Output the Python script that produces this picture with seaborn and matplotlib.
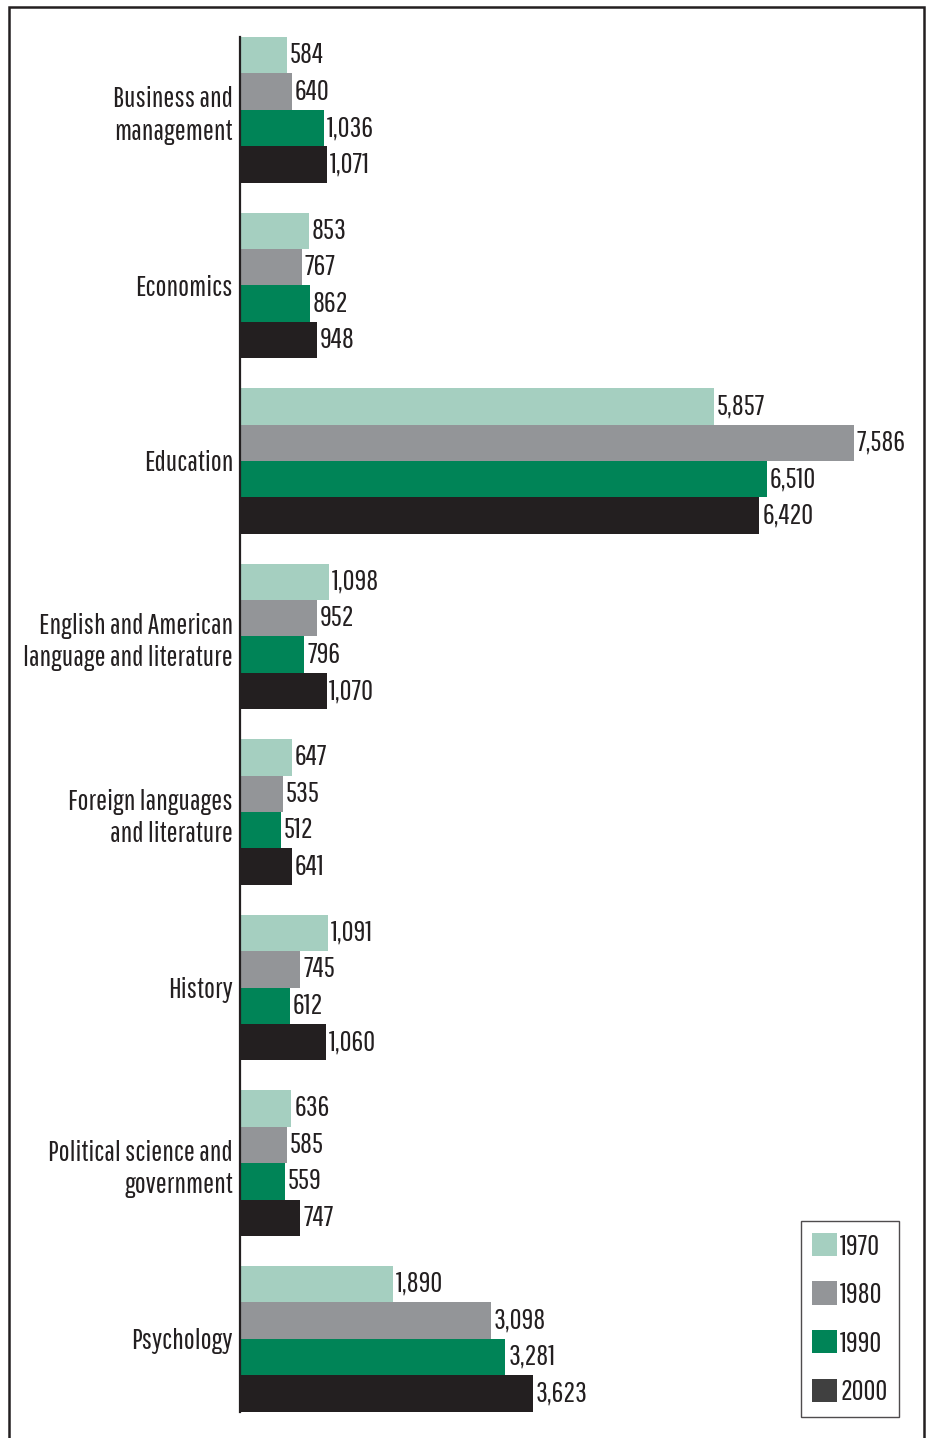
import matplotlib
matplotlib.use("Agg")
import matplotlib.pyplot as plt
from matplotlib.patches import Rectangle, Patch
import pandas as pd
import seaborn as sns

categories = [
    "Business and\nmanagement",
    "Economics",
    "Education",
    "English and American\nlanguage and literature",
    "Foreign languages\nand literature",
    "History",
    "Political science and\ngovernment",
    "Psychology",
]
years = ["1970", "1980", "1990", "2000"]
values_1970 = [584, 853, 5857, 1098, 647, 1091, 636, 1890]
values_1980 = [640, 767, 7586, 952, 535, 745, 585, 3098]
values_1990 = [1036, 862, 6510, 796, 512, 612, 559, 3281]
values_2000 = [1071, 948, 6420, 1070, 641, 1060, 747, 3623]
colors = ["#a5cfc0", "#939598", "#008457", "#231f20"]
legend_colors = ["#a5cfc0", "#939598", "#008457", "#404040"]

series = [values_1970, values_1980, values_1990, values_2000]
df = pd.DataFrame(
    [(c, y, v) for y, vals in zip(years, series) for c, v in zip(categories, vals)],
    columns=["field", "year", "degrees"],
)

sns.set_theme(style="white")
plt.rcParams["font.family"] = ["Pathway Gothic One", "Roboto Condensed", "DejaVu Sans"]
FS = 21

W, H = 928, 1438
fig = plt.figure(figsize=(W / 100, H / 100), dpi=100)
left_px, right_px = 240, 925
top_px, bot_px = 37, 1411.5
ax = fig.add_axes([left_px / W, 1 - bot_px / H, (right_px - left_px) / W, (bot_px - top_px) / H])

sns.barplot(
    data=df, y="field", x="degrees", hue="year", order=categories, hue_order=years,
    palette=colors, orient="h", width=0.83, saturation=1, legend=False, ax=ax,
    errorbar=None, linewidth=0,
)
for cont in ax.containers:
    ax.bar_label(cont, fmt="{:,.0f}", padding=2, fontsize=FS, color="#231f20")

ax.set_xlim(0, (right_px - left_px) / 0.0809)
ax.set_ylim(7.415, -0.415)
ax.set_xlabel("")
ax.set_ylabel("")
ax.set_xticks([])
for s in ["top", "right", "bottom"]:
    ax.spines[s].set_visible(False)
ax.spines["left"].set_linewidth(1.6)
ax.spines["left"].set_color("#231f20")
ax.tick_params(axis="y", length=0, pad=5, labelsize=FS, labelcolor="#231f20")
for lbl in ax.get_yticklabels():
    lbl.set_linespacing(1.3)
    lbl.set_horizontalalignment("right")
    lbl.set_multialignment("right")
ax.patch.set_alpha(0)

handles = [Patch(facecolor=c, edgecolor="none") for c in legend_colors]
leg = fig.legend(
    handles, years, loc="lower right",
    bbox_to_anchor=(899 / W, 1 - 1417 / H), fontsize=FS,
    frameon=True, fancybox=False, edgecolor="#231f20",
    handlelength=0.85, handleheight=0.85, handletextpad=0.1,
    labelspacing=0.75, borderpad=0.4, borderaxespad=0,
)
leg.get_frame().set_linewidth(1.0)
for t in leg.get_texts():
    t.set_color("#231f20")

# outer frame around the figure
fig.patches.append(Rectangle((9 / W, -0.01), (924 - 9) / W, 1.01 - 7 / H,
                             transform=fig.transFigure, fill=False,
                             edgecolor="#231f20", linewidth=1.8))

fig.savefig("out.png", dpi=100)
